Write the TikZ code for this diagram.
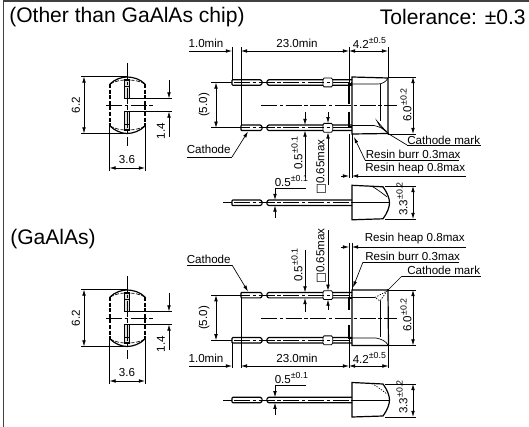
\documentclass[tikz,border=0pt]{standalone}
\usepackage{fontspec}
\setmainfont{Liberation Sans}
\newfontfamily\djfont{DejaVu Sans}
\usetikzlibrary{arrows.meta}
\newcommand\sups[1]{\raisebox{.42em}{\fontsize{6.6}{6.6}\selectfont #1}}
\tikzset{
  thin line/.style={line width=.5pt,black},
  outl/.style={line width=.9pt,black},
  cl/.style={line width=.5pt,black,dash pattern=on 12pt off 2pt on 2.5pt off 2pt},
  dimr/.style={line width=.5pt,black,-{Latex[length=4.6pt,width=2.7pt]}},
  diml/.style={line width=.5pt,black,{Latex[length=4.6pt,width=2.7pt]}-{Latex[length=4.6pt,width=2.7pt]}},
  lab/.style={inner sep=0pt,font=\fontsize{8.7}{9}\selectfont},
  ttl/.style={inner sep=0pt,font=\fontsize{15.8}{16}\selectfont},
  dots/.style={line width=.5pt,black,dash pattern=on 1pt off 1pt},
}
% front view of the device: #1 = y offset
\newcommand\capview[1]{
\begin{scope}[shift={(0,#1)}]
  \draw[outl] (110,84) .. controls (115,79) and (122,77) .. (127,77) .. controls (133,77) and (140,79) .. (145,84);
  \draw[outl] (110,126) .. controls (115,131) and (122,133.5) .. (127,133.5) .. controls (133,133.5) and (140,131) .. (145,126);
  \draw[outl,dash pattern=on 3pt off 1.2pt] (110,84) -- (110,126);
  \draw[outl,dash pattern=on 3pt off 1.2pt] (145,84) -- (145,126);
  \draw[line width=.5pt,dash pattern=on 3pt off 1.2pt] (110,84) .. controls (115,81) and (122,80) .. (125,80);
  \draw[line width=.5pt,dash pattern=on 3pt off 1.2pt] (145,84) .. controls (140,81) and (133,80) .. (129,80);
  \draw[line width=.5pt,dash pattern=on 3pt off 1.2pt] (110,126) .. controls (115,129) and (122,130) .. (125,130);
  \draw[line width=.5pt,dash pattern=on 3pt off 1.2pt] (145,126) .. controls (140,129) and (133,130) .. (129,130);
  \draw[outl,fill=black!12] (124.5,80) rectangle (129.5,98.5);
  \draw[outl,fill=black!12] (124.5,111.5) rectangle (129.5,130);
  \draw[thin line] (124.5,86) -- (129.5,86) (124.5,124) -- (129.5,124);
  \draw[cl] (127,63) -- (127,146);
  \draw[cl] (106,105) -- (154,105);
  \draw[thin line] (81,76.5) -- (127,76.5) (81,133.5) -- (127,133.5);
  \draw[diml] (84,76.5) -- (84,133.5);
  \node[lab,rotate=90] (dsixtwo#1) at (76,105) {6.2};
  \draw[thin line] (129.5,98.5) -- (172,98.5) (129.5,111.5) -- (172,111.5);
  \draw[dimr] (169,80) -- (169,98.5);
  \draw[dimr] (169,137) -- (169,111.5);
  \node[lab,rotate=90] (donefour#1) at (161,131) {1.4};
  \draw[thin line] (109.5,126) -- (109.5,171) (145,126) -- (145,171);
  \draw[diml] (109.5,168) -- (145,168);
  \node[lab] (dthreesix#1) at (127,160) {3.6};
\end{scope}}
% one lead: #1 start x, #2 y centre
\newcommand\leadrun[2]{
  \draw[outl,fill=white,rounded corners=.6pt] (#1,#2-2.7) -- (261,#2-2.7) -- (262.5,#2) -- (261,#2+2.7) -- (#1,#2+2.7) -- cycle;
  \draw[outl,rounded corners=.6pt] (352,#2-2.7) -- (268,#2-2.7) -- (266.5,#2) -- (268,#2+2.7) -- (352,#2+2.7);
}
\newcommand\bump[1]{
  \draw[line width=.6pt,black,fill=white] (323,#1-2.7) -- (324,#1-4.4) -- (331.5,#1-4.4) -- (332.7,#1-2.7) -- (332.7,#1+2.7) -- (331.5,#1+4.4) -- (324,#1+4.4) -- (323,#1+2.7) -- cycle;
}
\newcommand\leadcl[1]{
  \draw[line width=.5pt,dash pattern=on 12pt off 2pt on 2.5pt off 2pt] (234,#1) -- (352,#1);
}
% side view: #1 y centre, #2 style for inner curve
\newcommand\sideview[2]{
  \leadrun{232}{#1}
  \leadcl{#1}
  \draw[line width=.5pt,black] (223,#1) -- (232,#1);
  \draw[line width=.5pt,black] (352,#1) -- (389,#1);
  \draw[outl] (352,#1-17.5) -- (383,#1-16) .. controls (387.5,#1-10) and (389.5,#1-4) .. (389.5,#1) .. controls (389.5,#1+4) and (387.5,#1+10) .. (383,#1+16) -- (352,#1+17) -- cycle;
  \draw[#2] (372,#1-16.5) .. controls (378,#1-13) and (383,#1-9) .. (387,#1-6);
}
\begin{document}
\begin{tikzpicture}[x=.75pt,y=-.75pt]
\useasboundingbox (0,0) rectangle (529,427);
% frame
\draw[line width=.9pt,black!75] (3.3,427) -- (3.3,1) -- (529,1);
% titles
\node[ttl,anchor=west] (t1) at (9,17) {(Other than GaAlAs chip)};
\node[ttl,anchor=east] (t2) at (526,17) {Tolerance: ±0.3};
\node[ttl,anchor=west] (t3) at (10,239) {(GaAlAs)};
\capview{0}
\capview{213}
%%% upper main view
\leadrun{232}{82.5}
\leadrun{241}{127.8}
\bump{82.5}
\bump{127.8}
\leadcl{82.5}
\leadcl{127.8}
\draw[outl] (352,84) -- (349,84) -- (349,104);
\draw[outl] (352,127) -- (349,127) -- (349,112);
\draw[outl] (352,77) -- (388,78) -- (388,133.5) -- (352,134) -- cycle;
\draw[thin line] (352,84) -- (378,84) .. controls (382,84) and (386,82) .. (388,78);
\draw[thin line] (352,125.5) -- (374,125.5) .. controls (380,127) and (385,129) .. (388,133);
\draw[thin line] (380,84) -- (380,121);
\draw[thin line] (377,121) -- (380,126.5) -- (387,132.5) -- cycle;
\draw[cl] (261,105) -- (397,105);
% dims upper
\draw[thin line] (232,47) -- (232,80) (241,47) -- (241,125);
\draw[thin line] (349,47) -- (349,84) (388,47) -- (388,78);
\draw[dimr] (189,51) -- (232,51);
\draw[diml] (241,51) -- (349,51);
\draw[diml] (349,51) -- (388,51);
\node[lab] (a1) at (206,43) {1.0min};
\node[lab] (a2) at (297,43) {23.0min};
\node[lab,anchor=west] (a3) at (352.5,43) {4.2\sups{±0.5}};
\draw[thin line] (211,82.5) -- (232,82.5) (211,127.8) -- (241,127.8);
\draw[diml] (216,82.5) -- (216,127.8);
\node[lab,rotate=90] (a4) at (204,105) {(5.0)};
\draw[dimr] (305,112) -- (305,125);
\draw[dimr] (305,178) -- (305,130.5);
\node[lab,rotate=90,anchor=west] (a5) at (297,170) {0.5\sups{±0.1}};
\draw[dimr] (328,112) -- (328,123.2);
\draw[dimr] (328,185) -- (328,132.4);
\node[lab,rotate=90,anchor=west] (a6) at (321,195) {{\djfont □}0.65max};
% cathode
\node[lab,anchor=west] (c1) at (186.5,149) {Cathode};
\draw[thin line] (186.5,157) -- (232,157);
\draw[dimr] (232,157) -- (248,131.5);
% leaders upper
\draw[thin line] (349,134) -- (349,178) (352,134) -- (352,178);
\draw[dimr] (341,176) -- (349,176);
\draw[dimr] (466,176) -- (352,176);
\node[lab,anchor=west] (r1) at (365,169) {Resin heap 0.8max};
\draw[thin line] (459,160) -- (365,160);
\draw[dimr] (365,160) -- (354,137);
\node[lab,anchor=west] (r2) at (365.5,154) {Resin burr 0.3max};
\node[lab,anchor=west] (r3) at (407,140) {Cathode mark};
\draw[thin line] (481,145) -- (407,145);
\draw[thin line] (407,145) -- (388,133.5);
\fill (388,133.5) circle (1.2);
% 6.0
\draw[thin line] (388,77) -- (416,77) (388,134) -- (416,134);
\draw[diml] (413,77) -- (413,134);
\node[lab,rotate=90,anchor=west] (d6) at (406,122) {6.0\sups{±0.2}};
%%% upper side view
\sideview{202.8}{thin line}
\node[lab,anchor=west] (s1) at (274.5,181) {0.5\sups{±0.1}};
\draw[thin line] (306,188) -- (275,188);
\draw[dimr] (275,188) -- (275,200);
\draw[dimr] (275,218) -- (275,205.5);
\draw[thin line] (385,186) -- (416,186) (385,219) -- (416,219);
\draw[diml] (413,186) -- (413,219);
\node[lab,rotate=90,anchor=west] (s2) at (402,216) {3.3\sups{±0.2}};
%%% lower main view
\leadrun{241}{295.2}
\leadrun{232}{340.3}
\bump{295.2}
\bump{340.3}
\leadcl{295.2}
\leadcl{340.3}
\draw[outl] (352,298) -- (349,298) -- (349,310);
\draw[outl] (352,338) -- (349,338) -- (349,325);
\draw[outl] (352,290) -- (388,290) -- (388.5,345.5) -- (352,345.5) -- cycle;
\draw[thin line] (352,297.5) -- (375,297.5);
\draw[dots] (375,297.5) -- (387,291) -- (380,301) -- cycle;
\draw[thin line] (352,338) -- (376,338) .. controls (381,339) and (386,341) .. (388,345);
\draw[thin line] (380,301) -- (380,337);
\draw[cl] (261,318) -- (397,318);
% dims lower
\draw[thin line] (232,343) -- (232,368) (241,298) -- (241,368);
\draw[thin line] (349,338) -- (349,368) (388.5,345.5) -- (388.5,368);
\draw[dimr] (189,366) -- (232,366);
\draw[diml] (241,366) -- (349,366);
\draw[diml] (349,366) -- (388.5,366);
\node[lab] (b1) at (206,358) {1.0min};
\node[lab] (b2) at (297,358) {23.0min};
\node[lab,anchor=west] (b3) at (352.5,358) {4.2\sups{±0.5}};
\draw[thin line] (211,295.2) -- (241,295.2) (211,340.3) -- (232,340.3);
\draw[diml] (216,295.2) -- (216,340.3);
\node[lab,rotate=90] (b4) at (204,318) {(5.0)};
\draw[dimr] (305,250) -- (305,292.5);
\draw[dimr] (305,312) -- (305,298);
\node[lab,rotate=90,anchor=west] (b5) at (297,282) {0.5\sups{±0.1}};
\draw[dimr] (328,230) -- (328,290.8);
\draw[dimr] (328,310) -- (328,299.6);
\node[lab,rotate=90,anchor=west] (b6) at (321,284) {{\djfont □}0.65max};
\node[lab,anchor=west] (c2) at (186.5,259) {Cathode};
\draw[thin line] (186.5,265) -- (232,265);
\draw[dimr] (232,265) -- (248,291.5);
\draw[thin line] (349,243) -- (349,298) (352,243) -- (352,290);
\draw[dimr] (341,247) -- (349,247);
\draw[dimr] (466,247) -- (352,247);
\node[lab,anchor=west] (q1) at (364.5,239) {Resin heap 0.8max};
\draw[thin line] (459,262) -- (363,262);
\draw[dimr] (363,262) -- (353,287.5);
\node[lab,anchor=west] (q2) at (365,256) {Resin burr 0.3max};
\node[lab,anchor=west] (q3) at (407,270) {Cathode mark};
\draw[thin line] (481,276) -- (402,276);
\draw[thin line] (402,276) -- (388,290);
\fill (388,290) circle (1.2);
\draw[thin line] (388,290) -- (416,290) (388.5,345.5) -- (416,345.5);
\draw[diml] (413,290) -- (413,345.5);
\node[lab,rotate=90,anchor=west] (d7) at (406,332) {6.0\sups{±0.2}};
%%% lower side view
\sideview{400}{dots}
\node[lab,anchor=west] (s3) at (274.5,378) {0.5\sups{±0.1}};
\draw[thin line] (306,385) -- (275,385);
\draw[dimr] (275,385) -- (275,397.3);
\draw[dimr] (275,415) -- (275,402.7);
\draw[thin line] (385,384) -- (416,384) (385,417) -- (416,417);
\draw[diml] (413,384) -- (413,417);
\node[lab,rotate=90,anchor=west] (s4) at (402,414) {3.3\sups{±0.2}};
\end{tikzpicture}
\end{document}
